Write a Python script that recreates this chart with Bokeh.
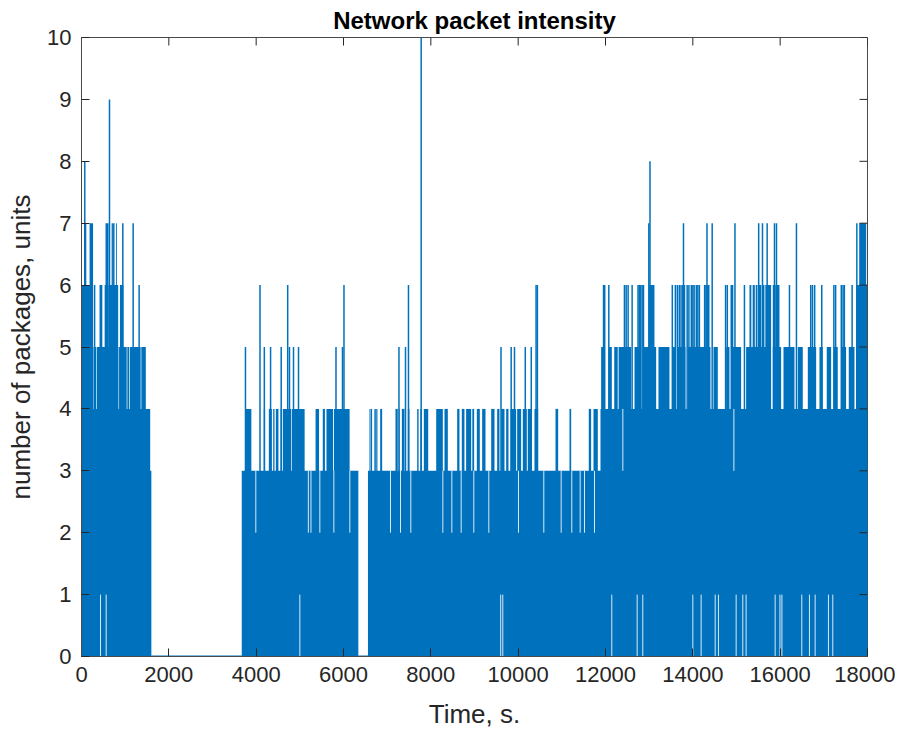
from bokeh.plotting import figure
from bokeh.models import Range1d, FixedTicker, ColumnDataSource
from bokeh.embed import file_html
from bokeh.resources import INLINE

# ---------------- data ----------------
x_ticks = [0, 2000, 4000, 6000, 8000, 10000, 12000, 14000, 16000, 18000]
y_ticks = [0, 1, 2, 3, 4, 5, 6, 7, 8, 9, 10]

# stretches where the signal stays at zero (s)
zero_stretch = [(1600, 3670), (6340, 6560)]

# dense parts: time intervals whose columns reach the given level
fill3 = [(0, 1600), (3670, 6340), (6560, 18000)]
fill4 = [(0, 1573),
         (3760, 3890), (4175, 4205), (4290, 4360), (4390, 4420), (4450, 4510),
         (4560, 4590), (4610, 4800), (4815, 5110), (5360, 5440), (5525, 5575),
         (5610, 5760), (5780, 6140),
         (6595, 6610), (6618, 6655), (6705, 6720), (6725, 6762), (6780, 6790),
         (6840, 6885), (7190, 7243), (7275, 7290), (7336, 7397), (7410, 7430),
         (7474, 7511), (7687, 7720), (7760, 7790), (7840, 7940), (8123, 8275),
         (8313, 8389), (8603, 8656), (8709, 8770), (8808, 8924), (8950, 8992),
         (9053, 9122), (9175, 9252), (9382, 9458), (9519, 9572), (9611, 9687),
         (9725, 9778), (9824, 9954), (9977, 10068), (10106, 10198), (10220, 10297),
         (10373, 10458), (10855, 10916), (11175, 11214), (11617, 11671),
         (11725, 11824), (11885, 18000)]
fill5 = [(0, 262), (275, 340), (355, 845), (860, 1035), (1050, 1090), (1105, 1355),
         (1370, 1473),
         (11900, 11954), (12080, 12145), (12200, 12280), (12300, 12588),
         (12664, 12817), (12855, 13160), (13213, 13465), (13541, 13603),
         (13655, 13832), (13884, 14404), (14473, 14572), (14763, 14839),
         (14916, 15106), (15220, 15755), (15831, 16022), (16076, 16328),
         (16404, 16518), (16633, 16824), (16900, 16976), (17067, 17167),
         (17228, 17319), (17396, 17510), (17571, 17702), (17740, 18000)]
fill6 = [(0, 250), (530, 600), (615, 840), (880, 960),
         (11938, 11999), (12992, 13121), (15297, 15340), (15370, 15420),
         (15440, 15480), (15500, 15564), (15579, 15640), (15660, 15793),
         (15831, 15900), (15920, 15984), (17740, 17990)]
fill7 = [(60, 110), (185, 265), (550, 620), (690, 720), (790, 810), (17810, 17970)]

# isolated peaks: time (s), packages
peak_t = [300, 430, 460, 1320, 740, 946, 1183, 75, 641,
          3755, 4187, 4330, 4573, 4763, 4855, 4970, 5828, 5977, 4088, 4722, 6011,
          7270, 7420, 9607, 9840, 9916, 10163, 10300, 7488, 10410, 10440, 7779,
          12076, 12434, 12473, 12518, 12610, 12745, 12775, 12805, 12840, 12870,
          13530, 13600, 13645, 13690, 13730, 13770, 13809, 13870, 13910, 13965,
          14000, 14030, 14080, 14115, 14150, 14270, 14300, 14330, 14365, 14750,
          14790, 14880, 14910, 15182, 16213, 16700, 16740, 16790, 16953, 17230,
          17270, 17400, 17440, 17470, 17648,
          12992, 13786, 14324, 14443, 14965, 15508, 15595, 15702, 15870, 15916,
          16373, 17756, 13019]
peak_v = [6, 6, 6, 6, 7, 7, 7, 8, 9,
          5, 5, 5, 5, 5, 5, 5, 5, 5, 6, 6, 6,
          5, 5, 5, 5, 5, 5, 5, 6, 6, 6, 10,
          6, 6, 6, 6, 6, 6, 6, 6, 6, 6,
          6, 6, 6, 6, 6, 6, 6, 6, 6, 6,
          6, 6, 6, 6, 6, 6, 6, 6, 6, 6,
          6, 6, 6, 6, 6, 6, 6, 6, 6, 6,
          6, 6, 6, 6, 6,
          7, 7, 7, 7, 7, 7, 7, 7, 7, 7,
          7, 7, 8]

# columns where the signal never drops to the lower value (empty ranges)
dip_t = [435, 565, 5000, 9600, 9648, 12144, 12725, 12854, 14000, 14190, 14512,
         14587, 14992, 15144, 15220, 15885, 15995, 16040, 16495, 16671, 16801,
         17106, 17205,
         3992, 5195, 5255, 5458, 5779, 6145, 7076, 7305, 7541, 8275, 8481, 8695,
         8984, 9328, 10007, 10587, 10985, 11228, 11420, 11519, 11748,
         12397, 14940]
dip_lo = [0] * 23 + [2] * 21 + [3] * 2
dip_hi = [1] * 23 + [3] * 21 + [4] * 2

# ---------------- figure ----------------
BLUE = "#0072BD"
AX = "#262626"
AXLINE = "#4a4a4a"
FONT = "Liberation Sans"

p = figure(frame_width=786, frame_height=619, output_backend="svg",
           toolbar_location=None, x_range=Range1d(0, 18000), y_range=Range1d(0, 10),
           min_border_left=81, min_border_right=28, min_border_top=37,
           min_border_bottom=40, title="Network packet intensity")
p.background_fill_color = "white"
p.border_fill_color = "white"
p.outline_line_color = AXLINE
p.xgrid.visible = False
p.ygrid.visible = False

levels = [(3, fill3), (4, fill4), (5, fill5), (6, fill6), (7, fill7)]
q = dict(left=[], right=[], top=[])
for lv, ivs in levels:
    for a, b in ivs:
        q["left"].append(a)
        q["right"].append(b)
        q["top"].append(lv)
p.quad(left="left", right="right", top="top", bottom=0,
       source=ColumnDataSource(q), fill_color=BLUE, line_color=None)

p.segment(x0=peak_t, x1=peak_t, y0=[0] * len(peak_t), y1=peak_v,
          line_color=BLUE, line_width=1.5)
p.segment(x0=[a for a, b in zero_stretch], x1=[b for a, b in zero_stretch],
          y0=[0] * len(zero_stretch), y1=[0] * len(zero_stretch),
          line_color=BLUE, line_width=2)
p.segment(x0=dip_t, x1=dip_t, y0=dip_lo, y1=dip_hi, line_color="white",
          line_width=1, line_alpha=0.85)

# mirrored inward ticks on the top and right edges (MATLAB box style)
p.ray(x=x_ticks, y=[y_ticks[-1]] * len(x_ticks), length=8, length_units="screen",
      angle=-90, angle_units="deg", line_color=AX, line_width=1)
p.ray(x=[x_ticks[-1]] * len(y_ticks), y=y_ticks, length=8, length_units="screen",
      angle=180, angle_units="deg", line_color=AX, line_width=1)

p.title.text_font = FONT
p.title.text_font_size = "24px"
p.title.text_font_style = "bold"
p.title.align = "center"
p.title.text_color = "black"
p.title.standoff = 7

for ax in (p.xaxis[0], p.yaxis[0]):
    ax.axis_line_color = AXLINE
    ax.major_tick_line_color = AX
    ax.minor_tick_line_color = None
    ax.major_tick_in = 8
    ax.major_tick_out = 0
    ax.major_label_text_font = FONT
    ax.major_label_text_color = AX
    ax.major_label_text_font_size = "22px"
    ax.axis_label_text_font = FONT
    ax.axis_label_text_font_size = "26px"
    ax.axis_label_text_font_style = "normal"
    ax.axis_label_text_color = AX

p.xaxis.ticker = FixedTicker(ticks=x_ticks)
p.yaxis.ticker = FixedTicker(ticks=y_ticks)
p.xaxis.axis_label = "Time, s."
p.yaxis.axis_label = "number of packages, units"
p.xaxis.major_label_standoff = 10
p.yaxis.major_label_standoff = 10
p.xaxis.axis_label_standoff = 14
p.yaxis.axis_label_standoff = 8

open("out.html", "w").write(file_html(p, INLINE))
